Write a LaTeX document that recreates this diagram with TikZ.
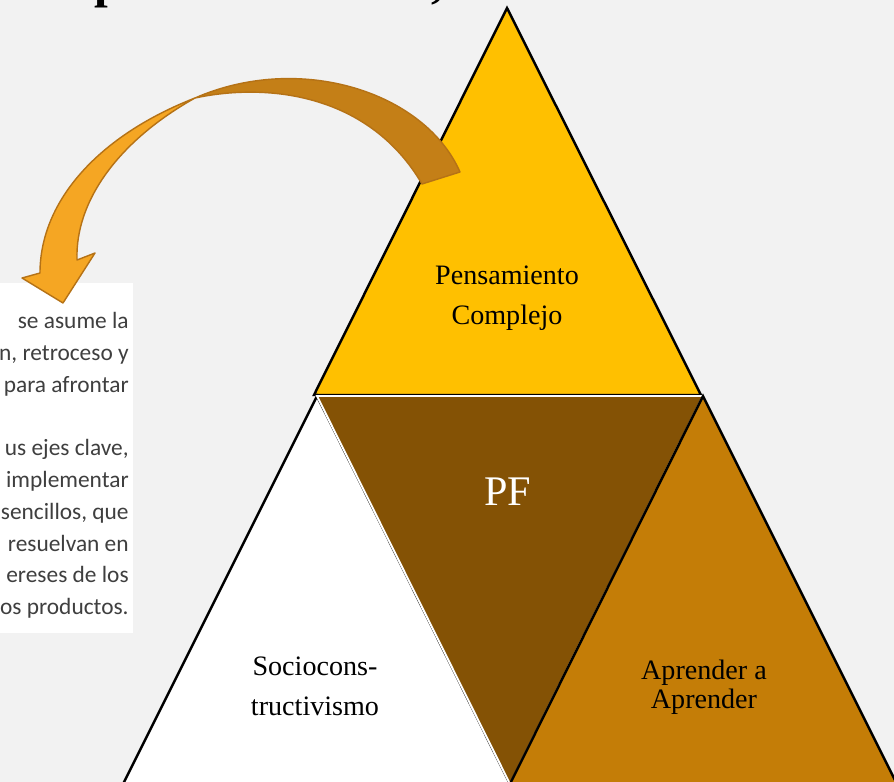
\documentclass[tikz,border=0pt]{standalone}
\usepackage{fontspec}
\setmainfont{Liberation Serif}
\newfontfamily\citafont{Carlito}
\usetikzlibrary{positioning}
\definecolor{fondo}{HTML}{F2F2F2}
\definecolor{amarillo}{HTML}{FFC000}
\definecolor{cafe}{HTML}{845205}
\definecolor{ocre}{HTML}{C47D07}
\definecolor{flechaosc}{HTML}{C47F17}
\definecolor{flechaclr}{HTML}{F5A623}
\definecolor{flechaborde}{HTML}{B57216}
\definecolor{gristexto}{HTML}{3F3F3F}
\tikzset{
         mytri/.style={draw=black, line width=1.4pt, line join=miter},
         myinner/.style={draw=white, line width=1.1pt, fill=cafe},
         mylabel/.style={align=center, inner sep=0pt, font=\fontsize{16}{22.7}\selectfont},
         myarrow/.style={draw=flechaborde, line width=0.8pt, line join=round},
         mytitle/.style={inner sep=0pt, font=\fontsize{28}{30}\selectfont\bfseries}
      }
\begin{document}
\begin{tikzpicture}[x=0.02cm, y=-0.02cm]
   \useasboundingbox (0,0) rectangle (894,782);
   \clip (0,0) rectangle (894,782);
   \fill[fondo] (0,0) rectangle (894,782);
   % heading cut by the top edge
   \node[mytitle, anchor=base] (tit1) at (108,-3) {p};
   \node[mytitle, anchor=base] (tit2) at (438,-3) {,};
   % quoted text, cut by the left edge
   \fill[white] (-5,283) rectangle (133,633);
   \node[anchor=north east, align=right, inner sep=0pt, text=gristexto,
         font=\citafont\fontsize{13.3}{18.1}\selectfont] (cita) at (129,312)
        {se asume la\\ n, retroceso y\\ para afrontar\\ \mbox{}\\ us ejes clave,\\
         implementar\\ sencillos, que\\ resuelvan en\\ ereses de los\\ os productos.};
   % triangles
   \coordinate (c1) at (507,8);
   \coordinate (c2) at (314,395);
   \coordinate (c3) at (701,395);
   \coordinate (c4) at (317,396);
   \coordinate (c5) at (703,396);
   \coordinate (c6) at (510,784);
   \coordinate (c7) at (123,784);
   \coordinate (c8) at (897,784);
   \filldraw[mytri, fill=amarillo] (c1) -- (c2) -- (c3) -- cycle;
   \filldraw[mytri, fill=white] (c4) -- (c7) -- (c6) -- cycle;
   \filldraw[myinner] (c4) -- (c5) -- (c6) -- cycle;
   \filldraw[mytri, fill=ocre] (c5) -- (c6) -- (c8) -- cycle;
   \node[mylabel] (pc) at (507,298) {Pensamiento\\Complejo};
   \node[mylabel, text=white, font=\fontsize{24}{26}\selectfont] (pf) at (508,492) {PF};
   \node[mylabel] (sc) at (315,686) {Sociocons-\\tructivismo};
   \node[mylabel, font=\fontsize{16}{16.5}\selectfont] (aa) at (704,687) {Aprender a\\Aprender};
   % curved arrow
   \coordinate (a1) at (460,172);
   \coordinate (a2) at (422,184);
   \coordinate (a3) at (195,98);
   \coordinate (a4) at (40,273);
   \coordinate (a5) at (77,260);
   \filldraw[myarrow, fill=flechaosc] (a1) .. controls (425,92) and (300,52) .. (a3)
         .. controls (270,82) and (370,95) .. (a2) -- cycle;
   \filldraw[myarrow, fill=flechaclr] (a3) .. controls (100,135) and (40,200) .. (a4)
         -- (22,278) -- (63,303) -- (95,253) -- (a5)
         .. controls (75,200) and (120,140) .. (a3) -- cycle;
\end{tikzpicture}
\end{document}
